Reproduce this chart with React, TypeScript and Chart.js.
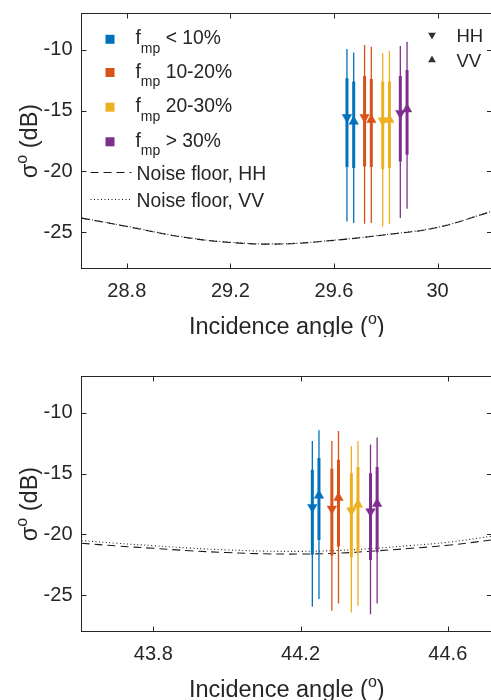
import React, { useEffect, useRef } from "react";
import { Chart, registerables } from "chart.js";
Chart.register(...registerables);

const FONT = "'Liberation Sans', Arial, Helvetica, sans-serif";
const TEXT = "#262626";
const AXIS = "#262626";
const COLORS = ["#0072BD", "#D95319", "#EDB120", "#7E2F8E"];
const groupLabels = [" < 10%", " 10-20%", " 20-30%", " > 30%"];

// ---------- Top panel (~29.6 deg) ----------
const topXTicks = [28.8, 29.2, 29.6, 30];
const yTicks = [-25, -20, -15, -10];

const topHHAngle = [29.65, 29.718, 29.788, 29.856];
const topVVAngle = [29.676, 29.744, 29.814, 29.882];
const topHHMean = [-15.54, -15.54, -15.82, -15.21];
const topVVMean = [-15.9, -15.76, -15.76, -14.88];
const topHHStdLo = [-19.65, -19.6, -19.82, -19.19];
const topHHStdHi = [-12.33, -12.14, -12.61, -12.14];
const topVVStdLo = [-19.73, -19.65, -19.73, -18.64];
const topVVStdHi = [-12.61, -12.39, -12.61, -11.65];
const topHHMin = [-24.13, -24.32, -24.54, -23.85];
const topHHMax = [-9.92, -9.59, -10.27, -9.67];
const topVVMin = [-24.26, -24.26, -24.34, -23.08];
const topVVMax = [-10.22, -9.73, -10.06, -9.32];

const topNoiseAngle = [28.625, 28.8, 29.0, 29.2, 29.4, 29.6, 29.8, 30.0, 30.21];
const topNoiseHH = [-23.85, -24.54, -25.36, -25.86, -25.98, -25.68, -25.22, -24.62, -23.3];
const topNoiseVV = [-23.83, -24.52, -25.34, -25.84, -25.96, -25.66, -25.2, -24.6, -23.28];

// ---------- Bottom panel (~44.3 deg) ----------
const botXTicks = [43.8, 44.2, 44.6];

const botHHAngle = [44.232, 44.285, 44.338, 44.39];
const botVVAngle = [44.25, 44.303, 44.356, 44.408];
const botHHMean = [-17.76, -17.9, -18.04, -18.12];
const botVVMean = [-16.8, -16.99, -17.54, -17.48];
const botHHStdLo = [-21.67, -21.75, -21.89, -22.11];
const botHHStdHi = [-14.67, -14.59, -14.96, -14.96];
const botVVStdLo = [-20.46, -21.01, -21.48, -21.48];
const botVVStdHi = [-13.72, -13.85, -14.46, -14.46];
const botHHMin = [-25.97, -26.3, -26.44, -26.57];
const botHHMax = [-12.31, -12.31, -12.75, -12.59];
const botVVMin = [-25.33, -25.69, -25.88, -25.69];
const botVVMax = [-11.43, -11.49, -12.31, -12.03];

const botNoiseAngle = [43.605, 43.7, 43.8, 43.9, 44.0, 44.1, 44.2, 44.3, 44.4, 44.5, 44.6, 44.72];
const botNoiseHH = [-20.73, -20.95, -21.15, -21.35, -21.5, -21.6, -21.62, -21.55, -21.37, -21.15, -20.9, -20.46];
const botNoiseVV = [-20.51, -20.73, -20.93, -21.13, -21.28, -21.38, -21.4, -21.33, -21.15, -20.92, -20.65, -20.15];

type Panel = {
  xMin: number; xMax: number; xTicks: number[];
  hhAngle: number[]; vvAngle: number[];
  hhMean: number[]; vvMean: number[];
  hhStdLo: number[]; hhStdHi: number[]; vvStdLo: number[]; vvStdHi: number[];
  hhMin: number[]; hhMax: number[]; vvMin: number[]; vvMax: number[];
  noiseAngle: number[]; noiseHH: number[]; noiseVV: number[];
  legend: boolean;
};

const topPanel: Panel = {
  xMin: 28.625, xMax: 30.21, xTicks: topXTicks,
  hhAngle: topHHAngle, vvAngle: topVVAngle, hhMean: topHHMean, vvMean: topVVMean,
  hhStdLo: topHHStdLo, hhStdHi: topHHStdHi, vvStdLo: topVVStdLo, vvStdHi: topVVStdHi,
  hhMin: topHHMin, hhMax: topHHMax, vvMin: topVVMin, vvMax: topVVMax,
  noiseAngle: topNoiseAngle, noiseHH: topNoiseHH, noiseVV: topNoiseVV, legend: true,
};
const botPanel: Panel = {
  xMin: 43.605, xMax: 44.72, xTicks: botXTicks,
  hhAngle: botHHAngle, vvAngle: botVVAngle, hhMean: botHHMean, vvMean: botVVMean,
  hhStdLo: botHHStdLo, hhStdHi: botHHStdHi, vvStdLo: botVVStdLo, vvStdHi: botVVStdHi,
  hhMin: botHHMin, hhMax: botHHMax, vvMin: botVVMin, vvMax: botVVMax,
  noiseAngle: botNoiseAngle, noiseHH: botNoiseHH, noiseVV: botNoiseVV, legend: false,
};

function bar(x: number, lo: number, hi: number, color: string, width: number, order: number) {
  return {
    type: "line" as const,
    data: [{ x, y: lo }, { x, y: hi }],
    borderColor: color,
    borderWidth: width,
    pointRadius: 0,
    showLine: true,
    order,
  };
}

function buildDatasets(p: Panel) {
  const ds: any[] = [];
  ds.push({
    type: "line", data: p.noiseAngle.map((a, i) => ({ x: a, y: p.noiseHH[i] })),
    borderColor: "#1a1a1a", borderWidth: 1.1, borderDash: [8, 5], pointRadius: 0,
    tension: 0.4, showLine: true, order: 5,
  });
  ds.push({
    type: "line", data: p.noiseAngle.map((a, i) => ({ x: a, y: p.noiseVV[i] })),
    borderColor: "#1a1a1a", borderWidth: 1.1, borderDash: [1, 2.5], pointRadius: 0,
    tension: 0.4, showLine: true, order: 5,
  });
  for (let i = 0; i < 4; i++) {
    ds.push(bar(p.hhAngle[i], p.hhMin[i], p.hhMax[i], COLORS[i], 1.3, 3));
    ds.push(bar(p.vvAngle[i], p.vvMin[i], p.vvMax[i], COLORS[i], 1.3, 3));
    ds.push(bar(p.hhAngle[i], p.hhStdLo[i], p.hhStdHi[i], COLORS[i], 3, 2));
    ds.push(bar(p.vvAngle[i], p.vvStdLo[i], p.vvStdHi[i], COLORS[i], 3, 2));
  }
  ds.push({
    type: "scatter", data: p.hhAngle.map((a, i) => ({ x: a, y: p.hhMean[i] })),
    pointStyle: "triangle", pointRotation: 180, pointRadius: 5.5,
    backgroundColor: COLORS, borderColor: COLORS, borderWidth: 0.5, order: 0,
  });
  ds.push({
    type: "scatter", data: p.vvAngle.map((a, i) => ({ x: a, y: p.vvMean[i] })),
    pointStyle: "triangle", pointRotation: 0, pointRadius: 5.5,
    backgroundColor: COLORS, borderColor: COLORS, borderWidth: 0.5, order: 0,
  });
  return ds;
}

type Part = { text: string; size: number; dy?: number };
function drawRich(ctx: CanvasRenderingContext2D, parts: Part[], x: number, y: number, align: "left" | "center") {
  const widths = parts.map((p) => {
    ctx.font = `${p.size}px ${FONT}`;
    return ctx.measureText(p.text).width;
  });
  const total = widths.reduce((a, b) => a + b, 0);
  let cx = align === "center" ? x - total / 2 : x;
  ctx.textAlign = "left";
  ctx.textBaseline = "alphabetic";
  parts.forEach((p, i) => {
    ctx.font = `${p.size}px ${FONT}`;
    ctx.fillText(p.text, cx, y + (p.dy || 0));
    cx += widths[i];
  });
}

function tri(ctx: CanvasRenderingContext2D, x: number, y: number, r: number, down: boolean) {
  const s = down ? -1 : 1;
  ctx.beginPath();
  ctx.moveTo(x, y - s * r);
  ctx.lineTo(x + r * 0.866, y + s * r * 0.5);
  ctx.lineTo(x - r * 0.866, y + s * r * 0.5);
  ctx.closePath();
  ctx.fill();
}

function decor(p: Panel) {
  return {
    id: "decor",
    afterDraw(chart: any) {
      const { ctx, chartArea: a, scales } = chart;
      const xs = scales.x, ys = scales.y;
      ctx.save();
      ctx.strokeStyle = AXIS;
      ctx.lineWidth = 1;
      ctx.strokeRect(a.left, a.top, a.right - a.left, a.bottom - a.top);
      const TL = 5;
      ctx.beginPath();
      xs.ticks.forEach((t: any) => {
        const px = Math.round(xs.getPixelForValue(t.value)) + 0.5;
        ctx.moveTo(px, a.bottom); ctx.lineTo(px, a.bottom - TL);
        ctx.moveTo(px, a.top); ctx.lineTo(px, a.top + TL);
      });
      ys.ticks.forEach((t: any) => {
        const py = Math.round(ys.getPixelForValue(t.value)) + 0.5;
        ctx.moveTo(a.left, py); ctx.lineTo(a.left + TL, py);
        ctx.moveTo(a.right, py); ctx.lineTo(a.right - TL, py);
      });
      ctx.stroke();

      ctx.fillStyle = TEXT;
      // x title
      drawRich(ctx, [
        { text: "Incidence angle (", size: 23.5 },
        { text: "o", size: 16, dy: -10 },
        { text: ")", size: 23.5 },
      ], (a.left + a.right) / 2, a.bottom + 65.5, "center");
      // y title
      ctx.save();
      ctx.translate(36.5, (a.top + a.bottom) / 2);
      ctx.rotate(-Math.PI / 2);
      drawRich(ctx, [
        { text: "\u03C3", size: 23.5 },
        { text: "o", size: 16, dy: -10 },
        { text: " (dB)", size: 23.5 },
      ], 0, 0, "center");
      ctx.restore();

      if (p.legend) {
        const rows = [39.3, 72.5, 107.2, 141.8];
        rows.forEach((cy, i) => {
          ctx.fillStyle = COLORS[i];
          ctx.fillRect(105.5, cy - 4.5, 9, 9);
          ctx.fillStyle = TEXT;
          drawRich(ctx, [
            { text: "f", size: 19.3 },
            { text: "mp", size: 14, dy: 8.5 },
            { text: groupLabels[i], size: 19.3 },
          ], 135.5, cy + 5, "left");
        });
        // noise floor legend
        ctx.strokeStyle = "#1a1a1a";
        ctx.lineWidth = 1.1;
        ctx.setLineDash([8, 5]);
        ctx.beginPath(); ctx.moveTo(90.5, 172.5); ctx.lineTo(131.5, 172.5); ctx.stroke();
        ctx.setLineDash([1, 2.5]);
        ctx.beginPath(); ctx.moveTo(90.5, 199.5); ctx.lineTo(131.5, 199.5); ctx.stroke();
        ctx.setLineDash([]);
        ctx.fillStyle = TEXT;
        drawRich(ctx, [{ text: "Noise floor, HH", size: 19.3 }], 136.5, 172.5 + 7, "left");
        drawRich(ctx, [{ text: "Noise floor, VV", size: 19.3 }], 136.5, 199.5 + 7, "left");
        // polarisation legend
        ctx.fillStyle = "#333333";
        tri(ctx, 432, 35, 4.5, true);
        tri(ctx, 432, 60, 4.5, false);
        ctx.fillStyle = TEXT;
        drawRich(ctx, [{ text: "HH", size: 18.5 }], 456.5, 41.5, "left");
        drawRich(ctx, [{ text: "VV", size: 18.5 }], 456.5, 66.5, "left");
      }
      ctx.restore();
    },
  };
}

function zeroPad(s: any) {
  s.paddingTop = 0; s.paddingBottom = 0; s.paddingLeft = 0; s.paddingRight = 0;
}

function makeChart(canvas: HTMLCanvasElement, p: Panel) {
  return new Chart(canvas, {
    type: "scatter",
    data: { datasets: buildDatasets(p) },
    options: {
      animation: false,
      responsive: false,
      devicePixelRatio: 1,
      events: [],
      layout: { padding: { top: 13.5, right: 8, left: 0, bottom: 0 } },
      plugins: { legend: { display: false }, tooltip: { enabled: false } },
      scales: {
        x: {
          type: "linear", min: p.xMin, max: p.xMax,
          grid: { display: false, drawTicks: false }, border: { display: false },
          ticks: {
            font: { family: FONT, size: 20 }, color: TEXT, padding: 11,
            maxRotation: 0, autoSkip: false, callback: (v: any) => String(v),
          },
          afterBuildTicks: (s: any) => { s.ticks = p.xTicks.map((v) => ({ value: v })); },
          afterFit: (s: any) => { s.height = 68.5; zeroPad(s); },
        },
        y: {
          type: "linear", min: -28, max: -7,
          grid: { display: false, drawTicks: false }, border: { display: false },
          ticks: {
            font: { family: FONT, size: 20 }, color: TEXT, padding: 9,
            autoSkip: false, callback: (v: any) => String(v),
          },
          afterBuildTicks: (s: any) => { s.ticks = yTicks.map((v) => ({ value: v })); },
          afterFit: (s: any) => { s.width = 81.5; zeroPad(s); },
        },
      },
    } as any,
    plugins: [decor(p)],
  });
}

export default function App() {
  const topRef = useRef<HTMLCanvasElement>(null);
  const botRef = useRef<HTMLCanvasElement>(null);
  useEffect(() => {
    const c1 = makeChart(topRef.current!, topPanel);
    const c2 = makeChart(botRef.current!, botPanel);
    return () => { c1.destroy(); c2.destroy(); };
  }, []);
  return (
    <div style={{ position: "absolute", left: 0, top: 0, width: 491, height: 700, overflow: "hidden", background: "#fff" }}>
      <canvas ref={topRef} width={500} height={337} style={{ position: "absolute", left: 0, top: 0 }} />
      <canvas ref={botRef} width={500} height={337} style={{ position: "absolute", left: 0, top: 363 }} />
    </div>
  );
}
